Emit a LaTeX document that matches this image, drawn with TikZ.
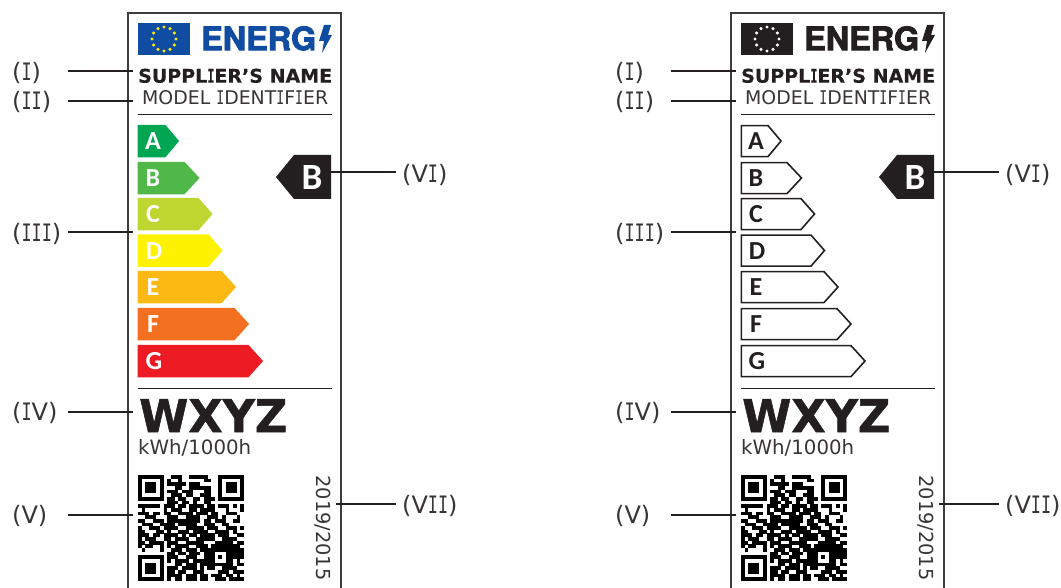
\documentclass[tikz,border=0pt]{standalone}
\usepackage{fontspec}
\usepackage{graphicx}
\setmainfont{DejaVu Sans}
\newfontfamily\vmono[FakeStretch=0.7]{DejaVu Sans Mono}
\newfontfamily\vmonob[FakeStretch=0.62,FakeBold=0.4]{DejaVu Sans Mono Bold}
\newfontfamily\heavyfont[FakeBold=1.2]{DejaVu Sans Bold}
\newfontfamily\suppfont[FakeBold=0.4]{DejaVu Sans Bold}
\newfontfamily\energfont[FakeBold=2.2,FakeStretch=0.8]{TeX Gyre Heros Bold}
\newfontfamily\gradefont{Carlito Bold}
\newcommand\vI{{\vmono I}}
\newcommand\vIb{{\vmonob I}}
\definecolor{ink}{HTML}{231F20}
\definecolor{framegray}{HTML}{3C3C3C}
\definecolor{eublue}{HTML}{0F4CA2}
\definecolor{euyellow}{HTML}{FFED00}
\definecolor{gA}{HTML}{00A651}
\definecolor{gB}{HTML}{50B848}
\definecolor{gC}{HTML}{BED630}
\definecolor{gD}{HTML}{FFF200}
\definecolor{gE}{HTML}{FDB913}
\definecolor{gF}{HTML}{F37021}
\definecolor{gG}{HTML}{ED1C24}
\tikzset{
  x=1pt,y=-1pt,
  lab/.style={inner sep=0pt,font=\fontsize{24}{26}\selectfont,text=ink!90,anchor=west,align=left},
  llab/.style={lab,text width=56pt},
  rlab/.style={lab,inner xsep=6pt},
  conn/.style={draw=ink,line width=2pt},
  rulebar/.style={draw=ink,line width=1.8pt},
  plain/.style={inner sep=0pt,text=ink},
  grade/.style={inner sep=0pt,font=\gradefont\fontsize{26}{26}\selectfont},
}
\newcommand\classbar[9]{%
  \path[fill=#6,draw=#7,line width=1.6pt,line join=miter]
    (138.3,#3+.6) -- (#4-1,#3+.6) -- (#5-1,#3+16) -- (#4-1,#3+31.6) -- (138.3,#3+31.6) -- cycle;
  \node[grade,text=#8] (#1-#2) at (#9,#3+16.5) {#2};
}
\newcommand\qrrow[1]{\def\qx{0}\qrscan#1\relax\stepcounter{qry}}
\newcounter{qry}
\def\qrscan#1{\ifx#1\relax\else
  \if#1x\fill[black] ({138+\qx*3.655},{475+\theqry*3.655}) rectangle ({138+(\qx+1)*3.655+.06},{475+(\theqry+1)*3.655+.06});\fi
  \pgfmathsetmacro\qx{int(\qx+1)}\expandafter\qrscan\fi}
\newcommand\qrcode{\setcounter{qry}{0}%
\qrrow{xxxxxxx..xxx..xxxxx...xxxxxxx}
\qrrow{x.....x.x..x......xx..x.....x}
\qrrow{x.xxx.x.xxxxx.xxx.....x.xxx.x}
\qrrow{x.xxx.x...xx..xxxxxx..x.xxx.x}
\qrrow{x.xxx.x.xxx.xxx...xx..x.xxx.x}
\qrrow{x.....x..xxx.xx..xxx..x.....x}
\qrrow{xxxxxxx.xx.xx..xx.xxx.xxxxxxx}
\qrrow{........xxx.xx.x..xx.........}
\qrrow{xxxxxx.xxx.xx.xxxx.xx.xxx.x.x}
\qrrow{.x.....x.xxx..xx.xxxx...x...x}
\qrrow{xxx.xx.xx..xxxx.xxx.xx..xxx..}
\qrrow{..xxx...xxx..xxxx..xxx.x...x.}
\qrrow{xx..xxx.xxxxxxxxx.xx.xxx..xx.}
\qrrow{.xxx..xxxx.xxxxx..xxx..xx....}
\qrrow{x..xxx.xxxx..xxxxx.xxx..xxx.x}
\qrrow{xx...xx.x..xxx.xxxx..xxxx.x..}
\qrrow{xxx.xx.xxxx.x.xx.xxxx.xxx..xx}
\qrrow{x.xxx..xx.xxxx..xxxxx..xxxx..}
\qrrow{xx.xxxx.xxx..xxxxx...xxxxx.xx}
\qrrow{x.xx..x.x.xxxx..xxx.xxxxxxxx.}
\qrrow{.x....x..xxx.xxx.xxxxxxxxxxxx}
\qrrow{........xx.xx.xxx.xxx...xxxxx}
\qrrow{xxxxxxx.xxx..xxx..xxx.x.xxxxx}
\qrrow{x.....x.x.xxxx.xxxxxx...xx.x.}
\qrrow{x.xxx.x...xx.xxx.xxxxxxxxx.xx}
\qrrow{x.xxx.x.xxx.xxxx.x.xx..xxxx..}
\qrrow{x.xxx.x.xx.xx..xxx....xxx.xxx}
\qrrow{x.....x.xxxx.xxx.xx.xxx.xx.x.}
\qrrow{xxxxxxx.x.xx.xxx.xx..xxx.xxxx}
}
\newcommand\starring[1]{%
  \foreach \a in {0,30,...,330}
    \fill[#1] ({164+12*cos(\a)},{39+12*sin(\a)}) circle[radius=1.7];
}
\newcommand\panel[5]{%
  \draw[framegray,line width=1.8pt] (128,590) -- (128,13) -- (341,13) -- (341,590);
  \fill[#2] (138,23) rectangle (190,55);
  \starring{#3}
  \node[plain,anchor=north west,text=#4] (#1-energ) at (201,26) {\resizebox{115pt}{24pt}{\energfont ENERG}};
  \fill[#4] (324,25) -- (331,25) -- (328,35) -- (332,35) -- (322,53) -- (324,41) -- (319,41) -- cycle;
  \node[plain,anchor=north west] (#1-supplier) at (138,68.5) {\resizebox{194pt}{14pt}{\suppfont SUPPL\vIb ER’S NAME}};
  \node[plain,anchor=north west,text=ink!90] (#1-model) at (142,90.5) {\resizebox{186pt}{14pt}{MODEL \vI DENT\vI F\vI ER}};
  \coordinate (#1-r1a) at (138,114.5); \coordinate (#1-r1b) at (332,114.5);
  \draw[rulebar] (#1-r1a) -- (#1-r1b);
  #5
  \coordinate (#1-r2a) at (138,388.5); \coordinate (#1-r2b) at (332,388.5);
  \draw[rulebar] (#1-r2a) -- (#1-r2b);
  \node[plain,anchor=north west] (#1-wxyz) at (139,399) {\resizebox{148pt}{33pt}{\heavyfont WXYZ}};
  \node[plain,anchor=north west,text=ink!90] (#1-unit) at (138,439.5) {\resizebox{113pt}{!}{kWh/1000h}};
  \qrcode
  \node[plain,rotate=-90,text=ink!90] (#1-year) at (323,528) {\resizebox{105pt}{!}{2019/2015}};
  \fill[ink] (331,155) -- (294,155) -- (276,177) -- (294,199) -- (331,199) -- cycle;
  \node[inner sep=0pt,text=white,font=\gradefont\fontsize{37}{37}\selectfont] (#1-big) at (312,178) {B};
  \coordinate (#1-bigE) at (331,172.5);
  \node[llab] (#1-l1) at (12,73) {(\vI)};
  \node[llab] (#1-l2) at (12,102) {(\vI\vI)};
  \node[llab] (#1-l3) at (12,233.5) {(\vI\vI\vI)};
  \node[llab] (#1-l4) at (12,413) {(\vI V)};
  \node[llab] (#1-l5) at (12,516) {(V)};
  \node[rlab] (#1-l6) at (396,174.5) {(V\vI)};
  \node[rlab] (#1-l7) at (396,505.5) {(V\vI\vI)};
  \coordinate (#1-c1) at (133,71.5);
  \coordinate (#1-c2) at (133,101);
  \coordinate (#1-c3) at (133,232);
  \coordinate (#1-c4) at (133,412);
  \coordinate (#1-c5) at (133,515);
  \coordinate (#1-c7) at (336,503.5);
  \draw[conn] (#1-l1.east |- #1-c1) -- (#1-c1);
  \draw[conn] (#1-l2.east |- #1-c2) -- (#1-c2);
  \draw[conn] (#1-l3.east |- #1-c3) -- (#1-c3);
  \draw[conn] (#1-l4.east |- #1-c4) -- (#1-c4);
  \draw[conn] (#1-l5.east |- #1-c5) -- (#1-c5);
  \draw[conn] (#1-bigE) -- (#1-l6.west |- #1-bigE);
  \draw[conn] (#1-c7) -- (#1-l7.west |- #1-c7);
}
\begin{document}
\begin{tikzpicture}
\useasboundingbox (0,0) rectangle (1061,588);
\fill[white] (0,0) rectangle (1061,588);
\panel{a}{eublue}{euyellow}{eublue}{%
  \classbar{a}{A}{125}{166}{179}{gA}{gA}{white}{153}
  \classbar{a}{B}{162}{185}{199.5}{gB}{gB}{white}{153}
  \classbar{a}{C}{198}{199}{212.5}{gC}{gC}{white}{153}
  \classbar{a}{D}{234.5}{209}{222.5}{gD}{gD}{white}{154}
  \classbar{a}{E}{271}{222}{236}{gE}{gE}{white}{153}
  \classbar{a}{F}{308}{235}{249}{gF}{gF}{white}{153}
  \classbar{a}{G}{345}{249}{263}{gG}{gG}{white}{154}
}
\begin{scope}[xshift=603pt]
\panel{b}{ink}{white}{ink}{%
  \classbar{b}{A}{125}{166}{179}{white}{ink}{ink}{153}
  \classbar{b}{B}{162}{185}{199.5}{white}{ink}{ink}{153}
  \classbar{b}{C}{198}{199}{212.5}{white}{ink}{ink}{153}
  \classbar{b}{D}{234.5}{209}{222.5}{white}{ink}{ink}{154}
  \classbar{b}{E}{271}{222}{236}{white}{ink}{ink}{153}
  \classbar{b}{F}{308}{235}{249}{white}{ink}{ink}{153}
  \classbar{b}{G}{345}{249}{263}{white}{ink}{ink}{154}
}
\end{scope}
\end{tikzpicture}
\end{document}
